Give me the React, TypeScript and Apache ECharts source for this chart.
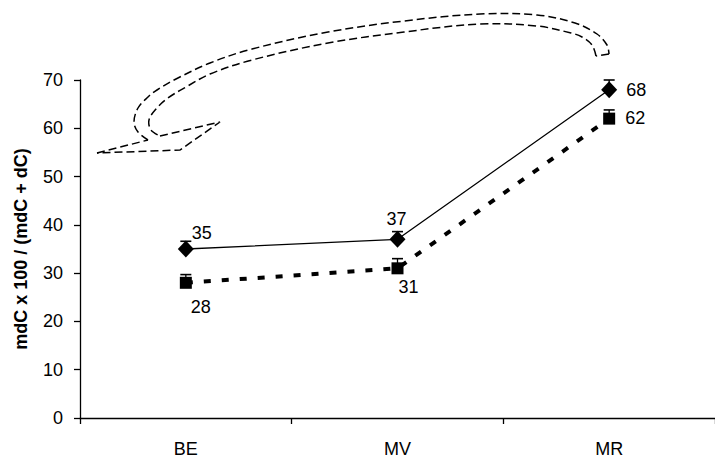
import React, { useEffect, useRef } from "react";
import * as echarts from "echarts";

const categories = ["BE", "MV", "MR"];
const seriesDiamond = [35, 37, 68];
const seriesSquare = [28, 31, 62];
const errDiamond = [1.6, 1.6, 2.0];
const errSquare = [1.7, 2.0, 1.8];
const yMin = 0;
const yMax = 70;
const yInterval = 10;
const yAxisTitle = "mdC x 100 / (mdC + dC)";

// label placement (style, not data)
const diamondLabelOffsets = [[16, -16], [-1, -20], [27, 0]];
const squareLabelOffsets = [[15, 24], [11, 19], [26, -1]];

const FONT = "'Liberation Sans', Arial, Helvetica, sans-serif";

const outerCurve = [
  [148, 140], [138, 132], [134, 122], [138, 108], [148, 97], [157, 90], [176, 79],
  [210, 63], [252, 49], [328, 32], [404, 21], [480, 14], [537, 15], [575, 23],
  [597, 34], [607, 45], [609, 54],
];
const innerCurve = [
  [596, 56], [592, 45], [582, 37], [571, 33], [537, 26], [480, 24], [404, 32],
  [328, 43], [252, 60], [210, 74], [186, 87], [168, 98], [156, 109], [149, 120],
  [151, 130], [160, 136],
];
const straightParts = [
  [[97, 153], [148, 140]],
  [[609, 54], [596, 56]],
  [[160, 136], [220, 122], [180, 150], [97, 153]],
];

export default function App() {
  const ref = useRef<HTMLDivElement>(null);
  useEffect(() => {
    if (!ref.current) return;
    const chart = echarts.init(ref.current, null, { renderer: "svg" });
    const dash = { stroke: "#000", fill: null, lineWidth: 1.5, lineDash: [8, 4] };
    const labelFor = (offs: number[][], i: number) => ({
      show: true,
      position: "inside",
      offset: offs[i],
      align: "center",
      verticalAlign: "middle",
      color: "#000",
      fontSize: 18,
      fontFamily: FONT,
      formatter: "{c}",
    });
    const errRender = (params: any, api: any) => {
      const x = api.value(0);
      const v = api.value(1);
      const e = api.value(2);
      const p0 = api.coord([x, v]);
      const p1 = api.coord([x, v + e]);
      return {
        type: "group",
        children: [
          { type: "line", shape: { x1: p0[0], y1: p0[1], x2: p1[0], y2: p1[1] }, style: { stroke: "#000", lineWidth: 1.3 } },
          { type: "line", shape: { x1: p1[0] - 5.5, y1: p1[1], x2: p1[0] + 5.5, y2: p1[1] }, style: { stroke: "#000", lineWidth: 1.6 } },
        ],
      };
    };
    chart.setOption({
      animation: false,
      backgroundColor: "#fff",
      grid: { left: 80, right: -8, top: 80, bottom: 44, containLabel: false },
      xAxis: {
        type: "category",
        data: categories,
        boundaryGap: true,
        axisLine: { show: true, lineStyle: { color: "#000", width: 1.3 } },
        axisTick: { show: true, length: 6, lineStyle: { color: "#000", width: 1.3 } },
        axisLabel: { color: "#000", fontSize: 18, fontFamily: FONT, margin: 22 },
        splitLine: { show: false },
      },
      yAxis: {
        type: "value",
        min: yMin,
        max: yMax,
        interval: yInterval,
        name: yAxisTitle,
        nameLocation: "middle",
        nameRotate: 90,
        nameGap: 50,
        nameTextStyle: { color: "#000", fontSize: 18, fontWeight: "bold", fontFamily: FONT },
        axisLine: { show: true, lineStyle: { color: "#000", width: 1.3 } },
        axisTick: { show: true, length: 6, lineStyle: { color: "#000", width: 1.3 } },
        axisLabel: { color: "#000", fontSize: 18, fontFamily: FONT, margin: 17 },
        splitLine: { show: false },
      },
      series: [
        {
          type: "custom",
          renderItem: errRender,
          data: categories.map((c, i) => [i, seriesDiamond[i], errDiamond[i]]),
          z: 1,
        },
        {
          type: "custom",
          renderItem: errRender,
          data: categories.map((c, i) => [i, seriesSquare[i], errSquare[i]]),
          z: 1,
        },
        {
          type: "line",
          data: seriesDiamond.map((v, i) => ({ value: v, label: labelFor(diamondLabelOffsets, i) })),
          symbol: "diamond",
          symbolSize: [16, 17],
          itemStyle: { color: "#000" },
          lineStyle: { color: "#000", width: 1.3, type: "solid" },
          z: 3,
        },
        {
          type: "line",
          data: seriesSquare.map((v, i) => ({ value: v, label: labelFor(squareLabelOffsets, i) })),
          symbol: "rect",
          symbolSize: [12, 12],
          itemStyle: { color: "#000" },
          lineStyle: { color: "#000", width: 4, type: [7, 11] },
          z: 2,
        },
      ],
      graphic: [
        { type: "polyline", shape: { points: outerCurve, smooth: 0.35 }, style: dash, silent: true },
        { type: "polyline", shape: { points: innerCurve, smooth: 0.35 }, style: dash, silent: true },
        ...straightParts.map((pts) => ({ type: "polyline", shape: { points: pts }, style: dash, silent: true })),
      ],
    });
    return () => chart.dispose();
  }, []);
  return (
    <div
      ref={ref}
      style={{ position: "fixed", left: 0, top: 0, width: 715, height: 462, background: "#fff" }}
    />
  );
}
